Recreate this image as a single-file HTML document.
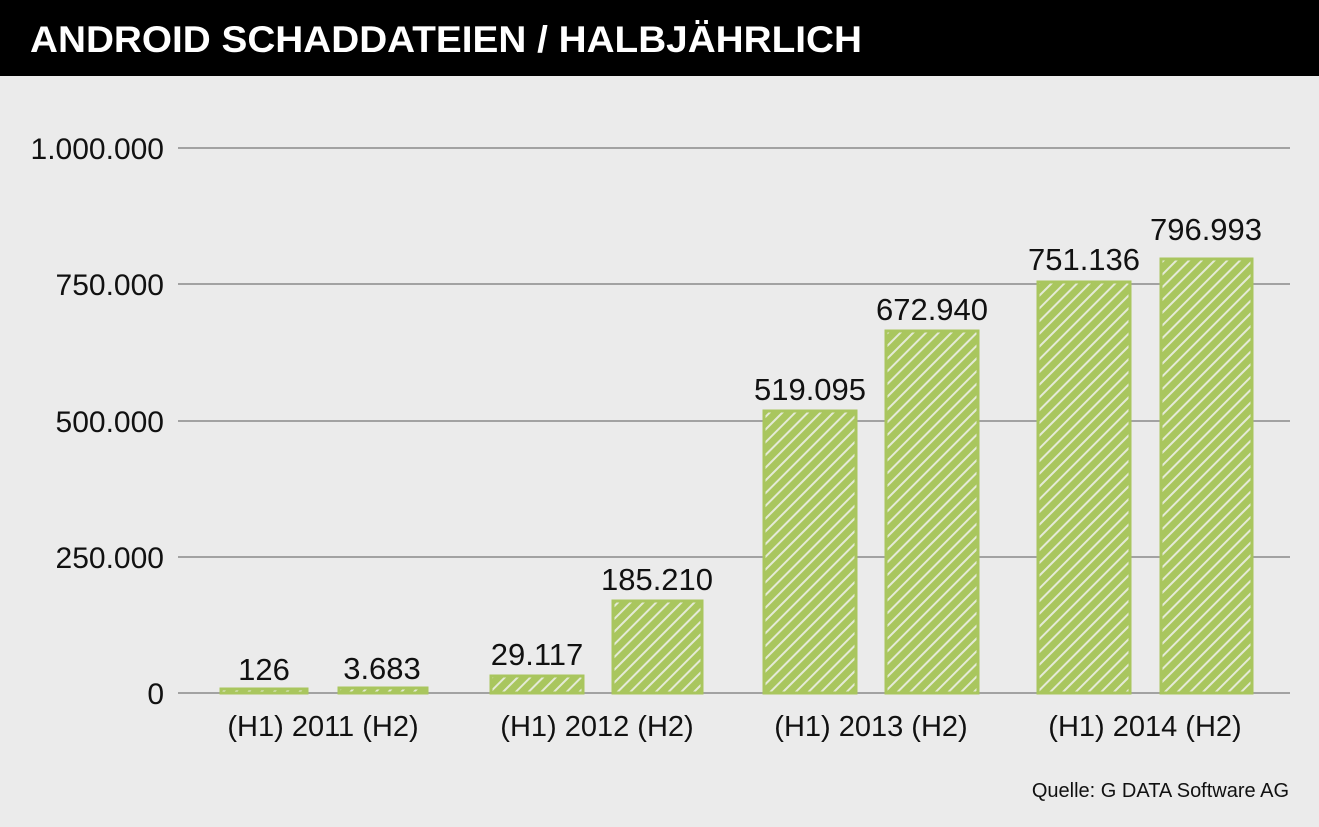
<!DOCTYPE html>
<html><head><meta charset="utf-8"><style>
body{margin:0;width:1319px;height:827px;background:#ebebeb;overflow:hidden;font-family:"Liberation Sans",sans-serif;}
</style></head><body>
<svg width="1319" height="827" xmlns="http://www.w3.org/2000/svg" style="display:block">
<defs>
<pattern id="h" patternUnits="userSpaceOnUse" width="9" height="9" patternTransform="rotate(-45)">
<rect width="9" height="9" fill="#e4ead6"/>
<rect width="9" height="7" fill="#a9c65e"/>
</pattern>
</defs>
<rect x="0" y="0" width="1319" height="76" fill="#000"/>
<text x="30" y="52" fill="#fff" font-size="37" font-weight="bold" font-family="Liberation Sans, sans-serif" textLength="832" lengthAdjust="spacingAndGlyphs">ANDROID SCHADDATEIEN / HALBJÄHRLICH</text>
<g stroke="#777" stroke-width="1.3">
<line x1="178" y1="148" x2="1290" y2="148"/>
<line x1="178" y1="284" x2="1290" y2="284"/>
<line x1="178" y1="421" x2="1290" y2="421"/>
<line x1="178" y1="557" x2="1290" y2="557"/>
<line x1="178" y1="693" x2="1290" y2="693"/>
</g>
<g font-size="30" fill="#111" text-anchor="end">
<text x="164" y="159">1.000.000</text>
<text x="164" y="295">750.000</text>
<text x="164" y="432">500.000</text>
<text x="164" y="568">250.000</text>
<text x="164" y="704">0</text>
</g>
<g fill="url(#h)" stroke="#a9c65e" stroke-width="3">
<rect x="221" y="689" width="86" height="4"/>
<rect x="339" y="688" width="88" height="5"/>
<rect x="491" y="676" width="92" height="17"/>
<rect x="613" y="601" width="89" height="92"/>
<rect x="764" y="411" width="92" height="282"/>
<rect x="886" y="331" width="92" height="362"/>
<rect x="1038" y="282" width="92" height="411"/>
<rect x="1161" y="259" width="91" height="434"/>
</g>
<g font-size="31" fill="#111" text-anchor="middle">
<text x="264" y="680">126</text>
<text x="382" y="679">3.683</text>
<text x="537" y="665">29.117</text>
<text x="657" y="590">185.210</text>
<text x="810" y="400">519.095</text>
<text x="932" y="320">672.940</text>
<text x="1084" y="270">751.136</text>
<text x="1206" y="240">796.993</text>
</g>
<g font-size="29" fill="#111" text-anchor="middle">
<text x="323" y="736">(H1) 2011 (H2)</text>
<text x="597" y="736">(H1) 2012 (H2)</text>
<text x="871" y="736">(H1) 2013 (H2)</text>
<text x="1145" y="736">(H1) 2014 (H2)</text>
</g>
<text x="1289" y="797" font-size="20" fill="#111" text-anchor="end">Quelle: G DATA Software AG</text>
</svg>
</body></html>
